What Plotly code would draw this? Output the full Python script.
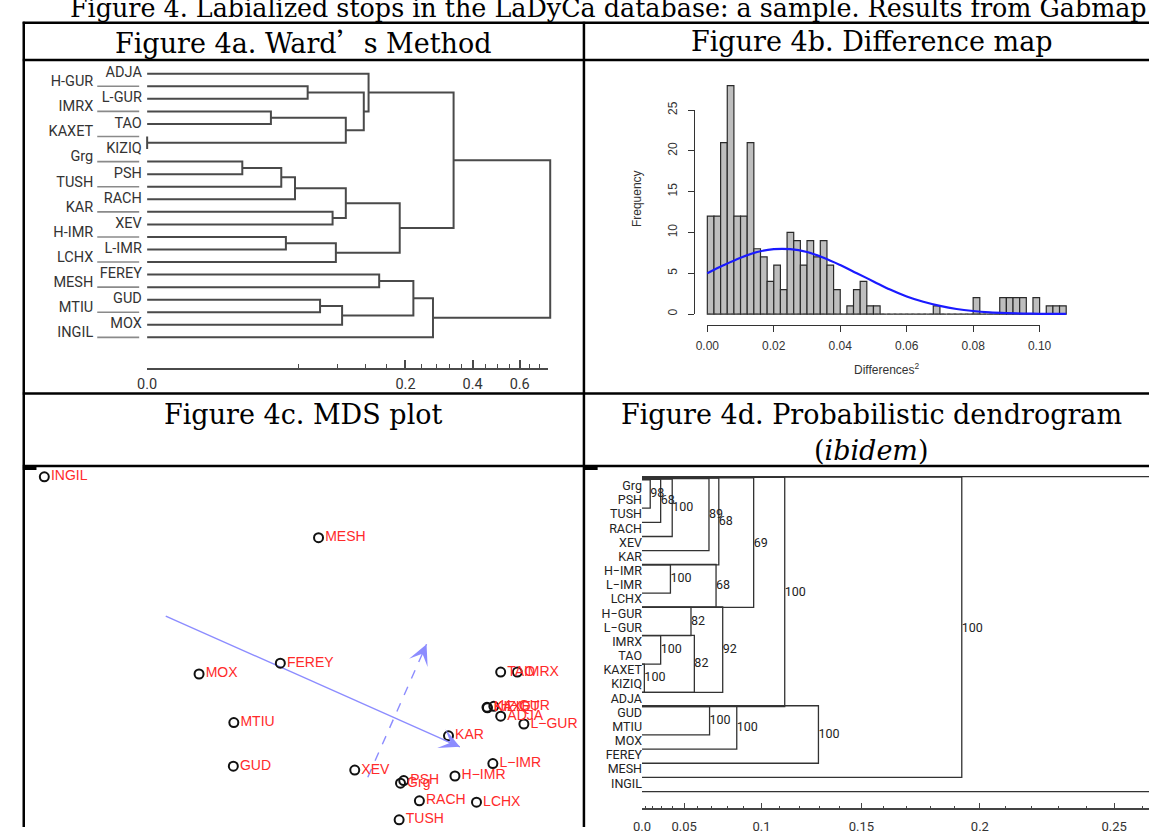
import numpy as np
import plotly.graph_objects as go

W, H = 1161, 834
def fx(p): return p / W
def fy(p): return 1 - p / H

LAB = "Roboto, Liberation Sans, Arial, sans-serif"
SANS = "Liberation Sans, Arial, Helvetica, sans-serif"
SERIF = "DejaVu Serif, Liberation Serif, serif"

# ------------------------------------------------------------------ data
# Figure 4a - Ward's method dendrogram (leaf order top->bottom; merges refer to leaves or earlier merges)
ward_leaves = ["ADJA", "H-GUR", "L-GUR", "IMRX", "TAO", "KAXET", "KIZIQ", "Grg", "PSH", "TUSH", "RACH",
               "KAR", "XEV", "H-IMR", "L-IMR", "LCHX", "FEREY", "MESH", "GUD", "MTIU", "MOX", "INGIL"]
ward_left = ["KAXET", "Grg", "IMRX", 1, "H-IMR", 3, "H-GUR", "GUD", "KAR", 4, 7, 2, 5, 6, "ADJA", "FEREY", 12, 15, 17, 14, 19]
ward_right = ["KIZIQ", "PSH", "TAO", "TUSH", "L-IMR", "RACH", "L-GUR", "MTIU", "XEV", "LCHX", "MOX", 0, 8, 11, 13, "MESH", 9, 10, "INGIL", 16, 18]
ward_height = [0.000, 0.010, 0.022, 0.028, 0.031, 0.0375, 0.048, 0.060, 0.074, 0.078, 0.086, 0.091, 0.091,
               0.118, 0.126, 0.145, 0.187, 0.219, 0.271, 0.334, 0.76]
ward_major_ticks = [0.0, 0.2, 0.4, 0.6]
ward_major_labels = ["0.0", "0.2", "0.4", "0.6"]
ward_minor_ticks = [0.04, 0.08, 0.12, 0.16, 0.24, 0.28, 0.32, 0.36, 0.45, 0.5, 0.55, 0.65, 0.7, 0.75]

# Figure 4b - histogram of squared differences (bin width 0.002 starting at 0)
hist_bin_width = 0.002
hist_counts = [12, 12, 21, 28, 12, 12, 21, 8, 7, 4, 6, 3, 10, 9, 6, 9, 7, 9, 6, 3, 0, 1, 3, 4, 1, 1,
               0, 0, 0, 0, 0, 0, 0, 0, 1, 0, 0, 0, 0, 0, 2, 0, 0, 0, 2, 2, 2, 2, 0, 2, 0, 1, 1, 1]
curve_x = [0.0, 0.005, 0.01, 0.015, 0.02, 0.025, 0.03, 0.035, 0.04, 0.045, 0.05, 0.055, 0.06, 0.065,
           0.07, 0.075, 0.08, 0.085, 0.09, 0.095, 0.10, 0.105, 0.108]
curve_y = [5.0, 6.0, 6.9, 7.6, 7.95, 7.95, 7.6, 6.9, 6.0, 5.0, 4.0, 3.0, 2.15, 1.5,
           1.0, 0.62, 0.37, 0.21, 0.12, 0.06, 0.03, 0.015, 0.01]
hist_xticks = [0.0, 0.02, 0.04, 0.06, 0.08, 0.10]
hist_xlabels = ["0.00", "0.02", "0.04", "0.06", "0.08", "0.10"]
hist_yticks = [0, 5, 10, 15, 20, 25]

# Figure 4c - MDS plot
mds_names = ["INGIL", "MESH", "FEREY", "MOX", "MTIU", "GUD", "TAO", "IMRX", "KAXET", "KIZIQ", "H\u2212GUR",
             "ADJA", "L\u2212GUR", "KAR", "L\u2212IMR", "H\u2212IMR", "XEV", "Grg", "PSH", "RACH", "LCHX", "TUSH"]
mds_x = [-2.67, 0.13, -0.26, -1.09, -0.735, -0.74, 1.99, 2.16, 1.85, 1.855, 1.92,
         1.99, 2.227, 1.457, 1.91, 1.523, 0.50, 0.967, 1.00, 1.16, 1.743, 0.953]
mds_y = [1.73, 1.11, -0.17, -0.28, -0.775, -1.22, -0.26, -0.26, -0.62, -0.625, -0.61,
         -0.71, -0.79, -0.91, -1.193, -1.32, -1.26, -1.393, -1.367, -1.573, -1.587, -1.767]
vec1_x = [-1.43, 1.573]
vec1_y = [0.31, -1.023]
vec2_x = [0.633, 1.233]
vec2_y = [-1.333, 0.023]

# Figure 4d - probabilistic (consensus) dendrogram
prob_leaves = ["Grg", "PSH", "TUSH", "RACH", "XEV", "KAR", "H\u2212IMR", "L\u2212IMR", "LCHX", "H\u2212GUR", "L\u2212GUR",
               "IMRX", "TAO", "KAXET", "KIZIQ", "ADJA", "GUD", "MTIU", "MOX", "FEREY", "MESH", "INGIL"]
prob_first = ["Grg", "Grg", "Grg", "Grg", "Grg", "H\u2212IMR", "H\u2212IMR", "Grg", "H\u2212GUR", "IMRX", "KAXET",
              "IMRX", "H\u2212GUR", "Grg", "GUD", "GUD", "GUD", "Grg", "Grg"]
prob_last = ["PSH", "TUSH", "RACH", "XEV", "KAR", "L\u2212IMR", "LCHX", "LCHX", "L\u2212GUR", "TAO", "KIZIQ",
             "KIZIQ", "KIZIQ", "ADJA", "MTIU", "MOX", "FEREY", "MESH", "INGIL"]
prob_height = [0.0168, 0.029, 0.040, 0.068, 0.0745, 0.0384, 0.0727, 0.0956, 0.0552, 0.029, 0.0073,
               0.0577, 0.077, 0.1126, 0.0684, 0.0857, 0.1297, 0.1928, 0.30]
prob_support = [98, 68, 100, 89, 68, 100, 68, 69, 82, 100, 100, 82, 92, 100, 100, 100, 100, 100, 100]
prob_major_ticks = [0.0, 0.05, 0.10, 0.15, 0.20, 0.25]
prob_major_labels = ["0.0", "0.05", "0.1", "0.15", "0.2", "0.25"]
prob_minor_ticks = [0.01, 0.02, 0.03, 0.04, 0.06, 0.07, 0.08, 0.09, 0.11, 0.12, 0.13, 0.14,
                    0.16, 0.17, 0.18, 0.19, 0.21, 0.22, 0.23, 0.24, 0.26]

# ------------------------------------------------------------------ figure
fig = go.Figure()

# ---- 4a : Ward dendrogram (cube-root distance scale) ----
ward_scale = np.cbrt
leaf_pos = {n: i for i, n in enumerate(ward_leaves)}
node_y, node_h = [], []
def child(c):
    if isinstance(c, str):
        return leaf_pos[c], 0.0
    return node_y[c], node_h[c]
dx, dy = [], []
for l, r, h in zip(ward_left, ward_right, ward_height):
    yl, hl = child(l)
    yr, hr = child(r)
    dx += [ward_scale(hl), ward_scale(h), ward_scale(h), ward_scale(hr), None]
    dy += [yl, yl, yr, yr, None]
    node_y.append((yl + yr) / 2)
    node_h.append(h)
fig.add_trace(go.Scatter(x=dx, y=dy, mode="lines", line=dict(color="#4a4a4a", width=2),
                         xaxis="x", yaxis="y", hoverinfo="skip"))
left_idx = [i for i in range(len(ward_leaves)) if i % 2 == 1]
right_idx = [i for i in range(len(ward_leaves)) if i % 2 == 0]
cx, cy = [], []
for i in left_idx:
    cx += [-0.113, -0.018, None]
    cy += [i, i, None]
fig.add_trace(go.Scatter(x=cx, y=cy, mode="lines", line=dict(color="#8a8a8a", width=1.6),
                         xaxis="x", yaxis="y", hoverinfo="skip"))
fig.add_trace(go.Scatter(x=[-0.012] * len(right_idx), y=right_idx, mode="text",
                         text=[ward_leaves[i] for i in right_idx], textposition="middle left",
                         textfont=dict(family=LAB, size=14.5, color="#333"), xaxis="x", yaxis="y", hoverinfo="skip"))
fig.add_trace(go.Scatter(x=[-0.122] * len(left_idx), y=[i - 0.3 for i in left_idx], mode="text",
                         text=[ward_leaves[i] for i in left_idx], textposition="middle left",
                         textfont=dict(family=LAB, size=14.5, color="#333"), xaxis="x", yaxis="y", hoverinfo="skip"))
fig.add_trace(go.Scatter(x=[0.1], y=[0], mode="markers", marker=dict(opacity=0),
                         xaxis="x5", yaxis="y", hoverinfo="skip"))

# ---- 4b : histogram ----
centers = np.arange(len(hist_counts)) * hist_bin_width + hist_bin_width / 2
fig.add_trace(go.Scatter(x=[0, len(hist_counts) * hist_bin_width], y=[0, 0], mode="lines",
                         line=dict(color="#555", width=1, dash="dot"), xaxis="x2", yaxis="y2", hoverinfo="skip"))
fig.add_trace(go.Bar(x=centers, y=hist_counts, width=hist_bin_width,
                     marker=dict(color="#bebebe", line=dict(color="#2a2a2a", width=1.2)),
                     xaxis="x2", yaxis="y2", hoverinfo="skip"))
fig.add_trace(go.Scatter(x=curve_x, y=curve_y, mode="lines", line=dict(color="#1a1aff", width=2.2, shape="spline"),
                         xaxis="x2", yaxis="y2", hoverinfo="skip"))
fig.add_trace(go.Scatter(x=[0.05], y=[10], mode="markers", marker=dict(opacity=0),
                         xaxis="x6", yaxis="y6", hoverinfo="skip"))

# ---- 4c : MDS plot ----
fig.add_trace(go.Scatter(x=vec2_x, y=vec2_y, mode="lines", line=dict(color="#8c8cff", width=1.4, dash="dash"),
                         xaxis="x3", yaxis="y3", hoverinfo="skip"))
fig.add_trace(go.Scatter(x=vec1_x, y=vec1_y, mode="lines", line=dict(color="#8c8cff", width=1.4),
                         xaxis="x3", yaxis="y3", hoverinfo="skip"))
fig.add_trace(go.Scatter(x=mds_x, y=mds_y, mode="markers+text", text=mds_names, textposition="middle right",
                         marker=dict(symbol="circle-open", size=9, color="#111", line=dict(width=2)),
                         textfont=dict(family=SANS, size=14, color="#ff2a2a"),
                         xaxis="x3", yaxis="y3", hoverinfo="skip", cliponaxis=False))

# ---- 4d : probabilistic dendrogram (distance^1.5 scale) ----
prob_scale = lambda d: d ** 1.5
x4_max = (1161 - 643.3) / 3857
ppos = {n: i for i, n in enumerate(prob_leaves)}
# boxes sharing a top leaf are stacked a fraction of a pixel apart (bigger boxes on top)
groups = {}
for idx, (f, h) in enumerate(zip(prob_first, prob_height)):
    groups.setdefault(f, []).append((h, idx))
rank = {}
for f, lst in groups.items():
    for r, (h, idx) in enumerate(sorted(lst)):
        rank[idx] = r
bx, by, lx, ly, lt = [], [], [], [], []
for idx, (f, l, h, s) in enumerate(zip(prob_first, prob_last, prob_height, prob_support)):
    top, bot = ppos[f], ppos[l] + 1
    v = prob_scale(h)
    t = top - 0.028 * rank[idx]
    bx += [0, v, v, 0, None]
    by += [t, t, bot, bot, None]
    if v < x4_max:
        lx.append(v)
        ly.append((top + bot) / 2)
        lt.append(str(s))
fig.add_trace(go.Scatter(x=bx, y=by, mode="lines", line=dict(color="#333", width=1.3),
                         xaxis="x4", yaxis="y4", hoverinfo="skip"))
fig.add_trace(go.Scatter(x=[0] * len(prob_leaves), y=[i + 0.5 for i in range(len(prob_leaves))], mode="text",
                         text=prob_leaves, textposition="middle left",
                         textfont=dict(family=LAB, size=12.5, color="#222"), xaxis="x4", yaxis="y4", hoverinfo="skip"))
fig.add_trace(go.Scatter(x=lx, y=ly, mode="text", text=lt, textposition="middle right",
                         textfont=dict(family=LAB, size=12.5, color="#222"), xaxis="x4", yaxis="y4", hoverinfo="skip"))
fig.add_trace(go.Scatter(x=[0.05], y=[5], mode="markers", marker=dict(opacity=0),
                         xaxis="x7", yaxis="y4", hoverinfo="skip"))

# ------------------------------------------------------------------ axes
hidden = dict(visible=False, showgrid=False, zeroline=False, fixedrange=True)
layout = dict(
    width=W, height=H, margin=dict(l=0, r=0, t=0, b=0), paper_bgcolor="white",
    plot_bgcolor="rgba(0,0,0,0)", showlegend=False, hovermode=False,
    xaxis=dict(hidden, domain=[fx(13), fx(583)], range=[(13 - 138) / 451, (583 - 138) / 451]),
    yaxis=dict(hidden, domain=[fy(391), fy(53)], range=[(391 - 66) / 12.8, (53 - 66) / 12.8]),
    xaxis2=dict(hidden, domain=[fx(600), fx(1150)], range=[(600 - 710) / 3393, (1150 - 710) / 3393]),
    yaxis2=dict(hidden, domain=[fy(330), fy(60)], range=[(311 - 330) / 8.32, (311 - 60) / 8.32]),
    xaxis3=dict(hidden, domain=[fx(13), fx(583)], range=[(13 - 300) / 100, (583 - 300) / 100]),
    yaxis3=dict(hidden, domain=[0, fy(467)], range=[(650 - 834) / 100, (650 - 467) / 100]),
    xaxis4=dict(hidden, domain=[fx(586), 1], range=[(586 - 643.3) / 3857, x4_max]),
    yaxis4=dict(hidden, domain=[0, fy(467)], range=[(834 - 480) / 14.45, (467 - 480) / 14.45]),
    xaxis5=dict(domain=[fx(138), fx(547.8)], range=[0, float(np.cbrt(0.75))], anchor="free", position=fy(367),
                showline=True, linecolor="#4a4a4a", linewidth=2, ticks="inside", ticklen=8, tickwidth=1.5,
                tickcolor="#4a4a4a", tickmode="array", tickvals=[float(np.cbrt(t)) for t in ward_major_ticks],
                ticktext=ward_major_labels, tickfont=dict(family=LAB, size=14.5, color="#333"),
                showgrid=False, zeroline=False, fixedrange=True, ticklabelstandoff=2,
                minor=dict(tickmode="array", tickvals=[float(np.cbrt(t)) for t in ward_minor_ticks],
                           ticks="inside", ticklen=4, tickwidth=1.2, tickcolor="#4a4a4a", showgrid=False)),
    xaxis6=dict(domain=[fx(710), fx(1049.3)], range=[0, 0.1], anchor="free", position=fy(321.7),
                showline=True, linecolor="#333", linewidth=1, ticks="outside", ticklen=6, tickcolor="#333",
                tickmode="array", tickvals=hist_xticks, ticktext=hist_xlabels,
                tickfont=dict(family=SANS, size=12, color="#333"), showgrid=False, zeroline=False,
                fixedrange=True, ticklabelstandoff=4),
    yaxis6=dict(domain=[fy(311), fy(103)], range=[0, 25], anchor="free", position=fx(696),
                showline=True, linecolor="#333", linewidth=1, ticks="outside", ticklen=6, tickcolor="#333",
                tickmode="array", tickvals=hist_yticks, tickangle=-90,
                tickfont=dict(family=SANS, size=12, color="#333"), showgrid=False, zeroline=False,
                fixedrange=True, ticklabelstandoff=6),
    xaxis7=dict(domain=[fx(643.3), 1], range=[0, x4_max], anchor="free", position=fy(816),
                showline=True, linecolor="#444", linewidth=1.5, ticks="inside", ticklen=6, tickwidth=1.2,
                tickcolor="#444", tickmode="array", tickvals=[prob_scale(t) for t in prob_major_ticks],
                ticktext=prob_major_labels, tickfont=dict(family=LAB, size=13, color="#333"),
                showgrid=False, zeroline=False, fixedrange=True, ticklabelstandoff=5,
                minor=dict(tickmode="array", tickvals=[prob_scale(t) for t in prob_minor_ticks],
                           ticks="inside", ticklen=3, tickwidth=1, tickcolor="#444", showgrid=False)),
)
fig.update_layout(**layout)

# ------------------------------------------------------------------ table frame
shapes = []
def hline(y, x0, x1, w=2.5):
    shapes.append(dict(type="line", xref="paper", yref="paper", x0=fx(x0), x1=fx(x1), y0=fy(y), y1=fy(y),
                       line=dict(color="black", width=w)))
def vline(x, y0, y1, w=2.5):
    shapes.append(dict(type="line", xref="paper", yref="paper", x0=fx(x), x1=fx(x), y0=fy(y0), y1=fy(y1),
                       line=dict(color="black", width=w)))
for yy in (14, 52, 392, 466):
    hline(yy, 11, 1161)
vline(12, 13, 834)
vline(584, 13, 834)
hline(468.5, 11, 25, 3)
hline(468.5, 584, 598, 3)
fig.update_layout(shapes=shapes)

# ------------------------------------------------------------------ texts
ann = []
def text(t, x, y, size=27, xanchor="center", family=SERIF, color="black", angle=0):
    ann.append(dict(text=t, x=fx(x), y=fy(y), xref="paper", yref="paper", showarrow=False,
                    xanchor=xanchor, yanchor="middle", textangle=angle,
                    font=dict(family=family, size=size, color=color)))
text("Figure 4. Labialized stops in the LaDyCa database: a sample. Results from Gabmap", 57, -1.5,
     size=25.4, xanchor="left")
text("Figure 4a. Ward<span style=\"font-family:'Noto Sans CJK SC'\">\u2019</span>s Method", 298, 33)
text("Figure 4b. Difference map", 878, 33)
text("Figure 4c. MDS plot", 298, 413)
text("Figure 4d. Probabilistic dendrogram", 878, 413)
text("(<i>ibidem</i>)", 878, 450)
text("Frequency", 638, 193, size=12, family=SANS, color="#333", angle=-90)
text("Differences<sup>2</sup>", 893, 367, size=12, family=SANS, color="#333")

def arrowhead(xs, ys):
    x0, x1 = xs
    y0, y1 = ys
    ax, ay = x1 - 0.06 * (x1 - x0), y1 - 0.06 * (y1 - y0)
    ann.append(dict(x=x1, y=y1, ax=ax, ay=ay, xref="x3", yref="y3", axref="x3", ayref="y3", text="",
                    showarrow=True, arrowhead=3, arrowsize=2.6, arrowwidth=1.3, arrowcolor="#8c8cff"))
arrowhead(vec1_x, vec1_y)
arrowhead(vec2_x, vec2_y)
fig.update_layout(annotations=ann)

fig.write_html("out.html", config={"displayModeBar": False},
               post_script="document.body.style.margin='0';document.body.style.overflow='hidden';")
